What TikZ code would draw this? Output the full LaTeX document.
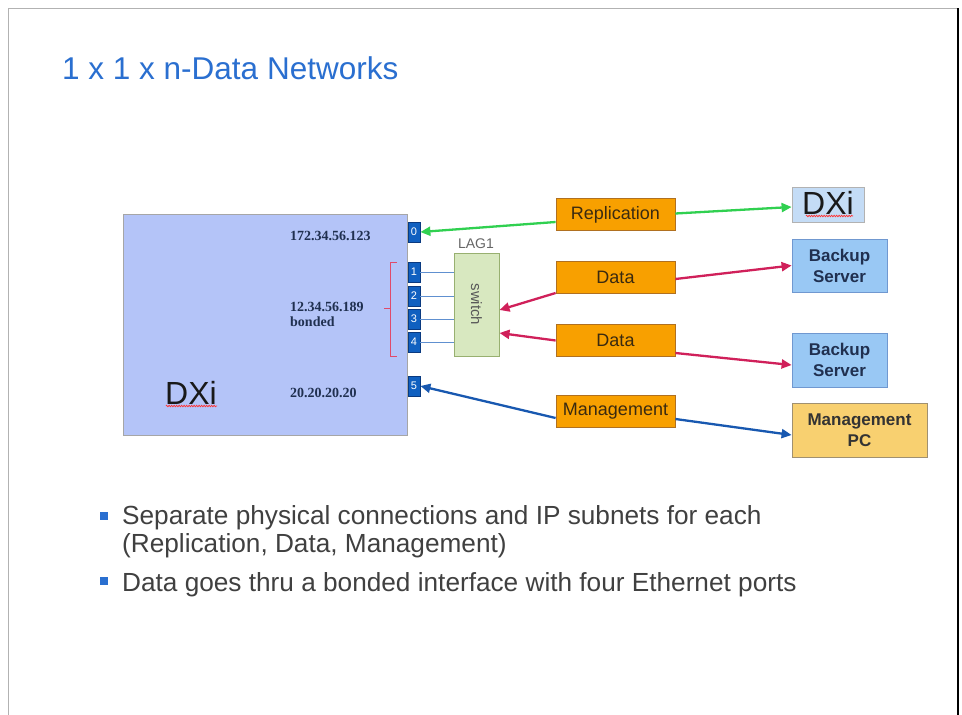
\documentclass[tikz,border=0pt]{standalone}
\usepackage{fontspec}
\setmainfont{Liberation Sans}
\newfontfamily\ipfont{Liberation Serif}
\usetikzlibrary{arrows.meta,calc,decorations.pathmorphing}
\definecolor{mainfill}{HTML}{B4C4F8}
\definecolor{portblue}{HTML}{1060C0}
\definecolor{portedge}{HTML}{0A3A80}
\definecolor{orfill}{HTML}{F8A000}
\definecolor{oredge}{HTML}{B07020}
\definecolor{ortext}{HTML}{3A2A10}
\definecolor{bkfill}{HTML}{99C8F4}
\definecolor{bkedge}{HTML}{7098D0}
\definecolor{dxfill}{HTML}{C4DCF6}
\definecolor{pcfill}{HTML}{F8D070}
\definecolor{pcedge}{HTML}{A09070}
\definecolor{swfill}{HTML}{D8E8C0}
\definecolor{swedge}{HTML}{98B070}
\definecolor{greenar}{HTML}{30D050}
\definecolor{redar}{HTML}{D0205A}
\definecolor{bluear}{HTML}{1858B0}
\definecolor{thinblue}{HTML}{6090D0}
\definecolor{brk}{HTML}{E04A6A}
\definecolor{titleblue}{HTML}{2A6FD0}
\definecolor{bodytext}{HTML}{404040}
\definecolor{navy}{HTML}{203050}
\begin{document}
\begin{tikzpicture}[x=1pt,y=-1pt,
  box/.style={draw, inner sep=0pt, line width=0.8pt, align=center},
  port/.style={box, fill=portblue, draw=portedge, minimum width=12pt, minimum height=20pt, text=white, font=\fontsize{11}{11}\selectfont},
  orbox/.style={box, fill=orfill, draw=oredge, minimum width=119pt, minimum height=32pt, text=ortext, font=\fontsize{18}{18}\selectfont},
  bkbox/.style={box, fill=bkfill, draw=bkedge, minimum width=95pt, minimum height=53pt, text=navy, font=\bfseries\fontsize{17}{21}\selectfont},
  iptext/.style={inner sep=0pt, anchor=west, text=navy, font=\ipfont\bfseries\fontsize{14}{15}\selectfont},
  dxitext/.style={inner sep=0pt, text=black!90, font=\fontsize{32}{32}\selectfont},
  conn/.style={line width=2.3pt, -{Triangle[length=10pt,width=9pt]}},
  bullet/.style={fill=titleblue, inner sep=0pt, minimum size=8pt},
  btext/.style={inner sep=0pt, anchor=west, text=bodytext, font=\fontsize{26.2}{28}\selectfont},
  squig/.style={draw=red!80, line width=0.7pt, decorate, decoration={zigzag, amplitude=0.8pt, segment length=2.5pt}}
]
\useasboundingbox (0,0) rectangle (962,715);
\fill[white] (0,0) rectangle (962,715);
% frame
\draw[gray!60, line width=1pt] (8,715) -- (8,8) -- (958,8);
\draw[black, line width=2pt] (958,8) -- (958,715);

% title
\node[inner sep=0pt, anchor=west, text=titleblue, font=\fontsize{31.5}{31.5}\selectfont] (title) at (62,68) {1 x 1 x n-Data Networks};

% main DXi box
\node[box, fill=mainfill, draw=gray!70, minimum width=284pt, minimum height=221pt] (dxi) at (265,324.5) {};
\node[iptext] (ip0) at (290,236) {172.34.56.123};
\node[iptext, align=left] (ip1) at (290,314) {12.34.56.189\\bonded};
\node[iptext] (ip5) at (290,393) {20.20.20.20};
\node[dxitext] (dxilabel) at (191,393) {DXi};
\draw[squig] (166,406) -- (217,406);

% ports
\node[port] (p0) at (414,232) {0};
\node[port] (p1) at (414,272) {1};
\node[port] (p2) at (414,296) {2};
\node[port] (p3) at (414,319) {3};
\node[port] (p4) at (414,342) {4};
\node[port] (p5) at (414,386) {5};

% bracket
\coordinate (bt) at (397,262);
\coordinate (bb) at (397,356);
\draw[brk, line width=1pt] (bt) -- ++(-7,0) -- ++(0,94) -- (bb);
\draw[brk, line width=1pt] (390,308) -- (384,308);

% switch
\node[box, fill=swfill, draw=swedge, line width=1pt, minimum width=45pt, minimum height=103pt] (sw) at (476.5,304.5) {};
\node[inner sep=0pt, rotate=-90, text=gray!70!black, font=\fontsize{15}{15}\selectfont] (swlabel) at (sw.center) {switch};
\node[inner sep=0pt, text=gray!80!black, font=\fontsize{14}{14}\selectfont] (lag) at (476,244) {LAG1};

\foreach \p in {p1,p2,p3,p4}
  \draw[thinblue, line width=0.8pt] (\p.east) -- (sw.west |- \p.east);

% orange boxes
\node[orbox] (repl) at (615.5,214.5) {Replication};
\node[orbox] (data1) at (615.5,277.5) {Data};
\node[orbox] (data2) at (615.5,340.5) {Data};
\node[orbox] (mgmt) at (615.5,411) {Management};

% right boxes
\node[box, fill=dxfill, draw=gray!60, minimum width=72pt, minimum height=35pt] (dxi2) at (828,204.5) {};
\node[dxitext] (dxi2label) at (828,203) {DXi};
\draw[squig] (806,216) -- (853,216);
\node[bkbox] (bk1) at (839.5,265.5) {Backup\\Server};
\node[bkbox, minimum height=54pt] (bk2) at (839.5,360) {Backup\\Server};
\node[bkbox, fill=pcfill, draw=pcedge, minimum width=135pt, minimum height=54pt, text=black!80] (pc) at (859.5,430) {Management\\PC};

% connectors
\draw[conn, greenar] ([yshift=-7.5pt]repl.west) -- (p0.east);
\draw[conn, greenar] ([yshift=1pt]repl.east) -- ([yshift=-2.5pt]dxi2.west);
\draw[conn, redar] ([yshift=-15.5pt]data1.west) -- ([yshift=-5.5pt]sw.east);
\draw[conn, redar] ([yshift=-1.5pt]data1.east) -- (bk1.west);
\draw[conn, redar] (data2.west) -- ([yshift=-28.5pt]sw.east);
\draw[conn, redar] ([yshift=-12.5pt]data2.east) -- ([yshift=-5pt]bk2.west);
\draw[conn, bluear] ([yshift=-7pt]mgmt.west) -- (p5.east);
\draw[conn, bluear] ([yshift=-8pt]mgmt.east) -- ([yshift=-5pt]pc.west);

% bullets
\node[bullet] (b1) at (104,516) {};
\node[btext] (t1) at (122,518) {Separate physical connections and IP subnets for each};
\node[btext] (t2) at (122,546) {(Replication, Data, Management)};
\node[bullet] (b2) at (104,581) {};
\node[btext] (t3) at (122,585) {Data goes thru a bonded interface with four Ethernet ports};
\end{tikzpicture}
\end{document}
